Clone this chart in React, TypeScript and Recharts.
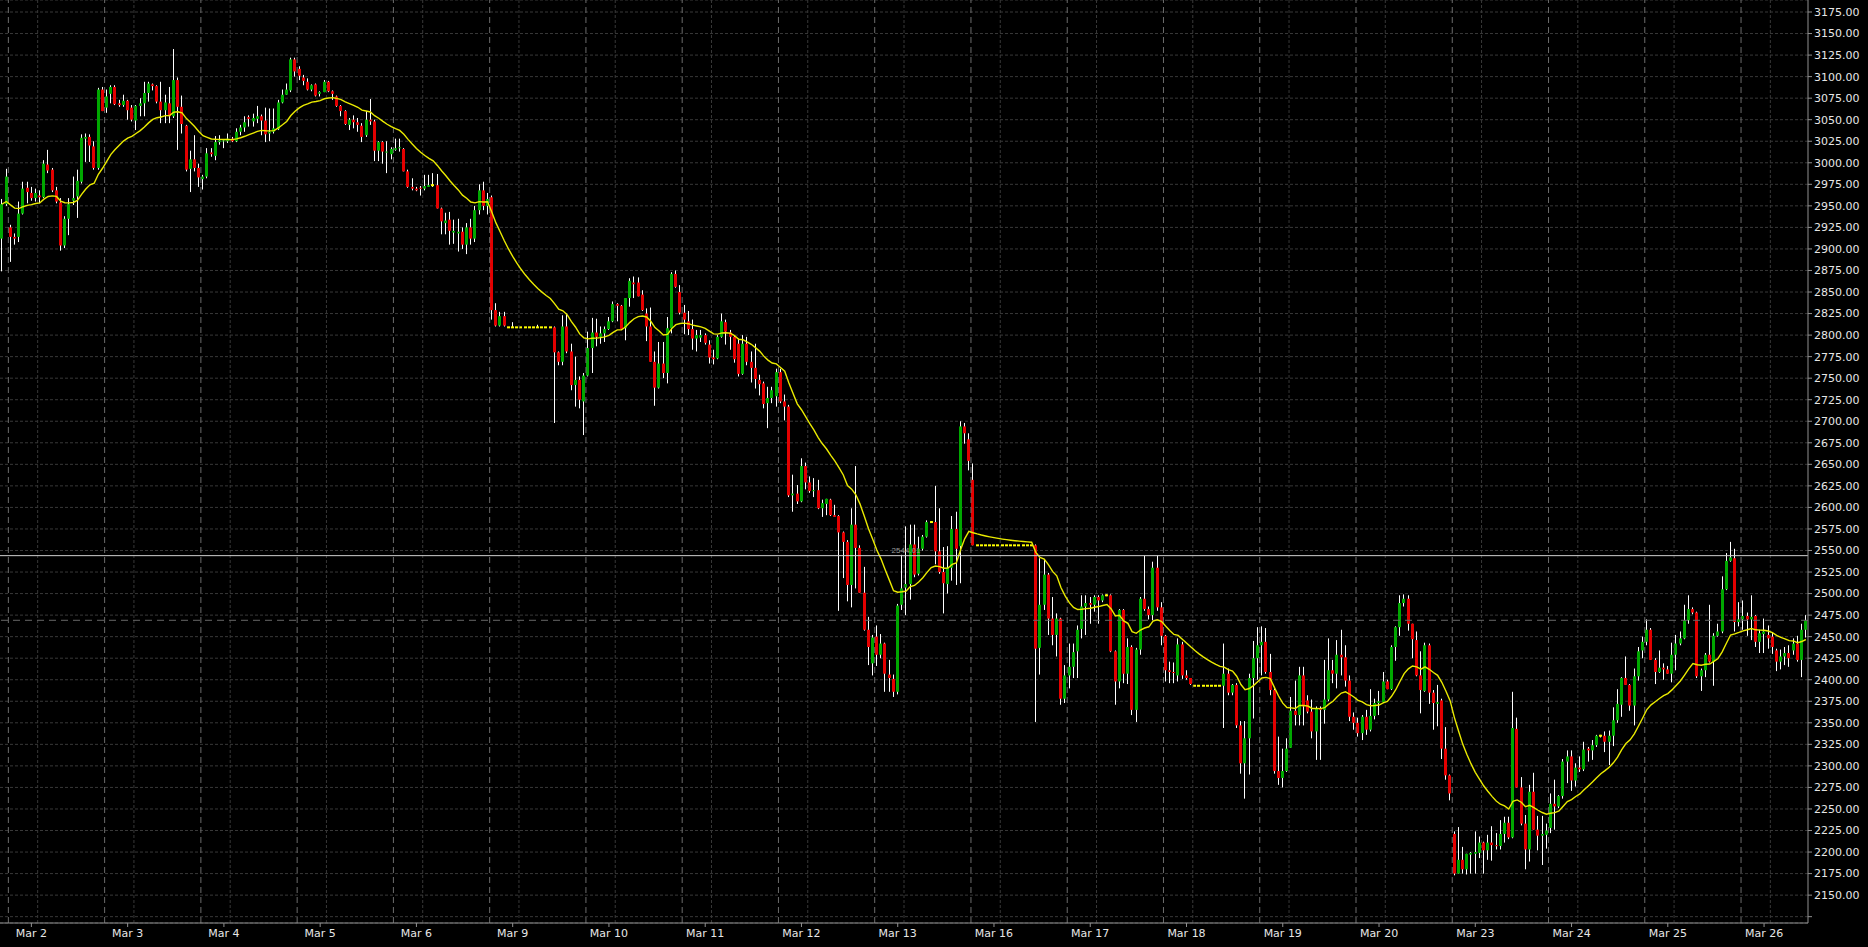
import {
  ComposedChart, Bar, Line, XAxis, YAxis, CartesianGrid,
  ReferenceLine, ReferenceDot,
} from 'recharts'

// hourly bars: [open, high, low, close]
type Candle = [number, number, number, number]

const feb28: Candle[] = [
  [2912, 2958, 2874, 2952], [2952, 2993, 2950, 2984],
]
const mar02: Candle[] = [
  [2925, 2928, 2885, 2914], [2914, 2918, 2905, 2912], [2914, 2955, 2908, 2941], [2941, 2978, 2940, 2970],
  [2971, 2978, 2953, 2966], [2965, 2972, 2956, 2959], [2959, 2970, 2955, 2965], [2962, 2968, 2953, 2960],
  [2960, 3003, 2959, 2999], [2998, 3015, 2988, 2991], [2992, 2994, 2966, 2968], [2968, 2972, 2953, 2955],
  [2954, 2959, 2898, 2904], [2904, 2938, 2901, 2935], [2935, 2959, 2916, 2952], [2956, 2984, 2951, 2959],
  [2961, 2992, 2936, 2979], [2978, 3033, 2976, 3029], [3028, 3034, 3001, 3030], [3030, 3033, 3001, 3020],
  [3019, 3025, 2992, 2994], [2994, 3087, 2992, 3085], [3085, 3088, 3060, 3060],
]
const mar03: Candle[] = [
  [3064, 3085, 3058, 3077], [3080, 3090, 3069, 3088], [3088, 3090, 3067, 3068], [3069, 3073, 3065, 3067],
  [3067, 3079, 3065, 3072], [3072, 3073, 3050, 3061], [3064, 3067, 3048, 3050], [3049, 3067, 3038, 3066],
  [3066, 3075, 3054, 3069], [3069, 3094, 3054, 3081], [3081, 3094, 3071, 3092], [3091, 3092, 3084, 3089],
  [3089, 3090, 3069, 3071], [3071, 3094, 3046, 3061], [3061, 3079, 3046, 3070], [3069, 3088, 3046, 3054],
  [3054, 3132, 3052, 3096], [3096, 3099, 3015, 3065], [3065, 3078, 3034, 3045], [3043, 3044, 2990, 2992],
  [2993, 3014, 2966, 3004], [3004, 3032, 2990, 2994], [2994, 2999, 2972, 2983],
]
const mar04: Candle[] = [
  [2981, 2986, 2969, 2984], [2984, 3017, 2982, 3011], [3012, 3017, 3007, 3010], [3008, 3031, 3003, 3024],
  [3024, 3032, 3021, 3026], [3025, 3027, 3017, 3026], [3025, 3034, 3023, 3028], [3028, 3030, 3024, 3025],
  [3025, 3040, 3024, 3036], [3036, 3044, 3032, 3041], [3041, 3054, 3036, 3047], [3053, 3055, 3042, 3051],
  [3048, 3057, 3042, 3052], [3051, 3066, 3046, 3054], [3054, 3056, 3032, 3049], [3049, 3064, 3024, 3033],
  [3034, 3063, 3025, 3036], [3036, 3063, 3034, 3040], [3039, 3073, 3038, 3070], [3070, 3085, 3069, 3079],
  [3079, 3092, 3079, 3085], [3084, 3122, 3082, 3120], [3120, 3122, 3100, 3106],
]
const mar05: Candle[] = [
  [3109, 3112, 3096, 3101], [3099, 3102, 3090, 3095], [3094, 3098, 3084, 3085], [3085, 3091, 3083, 3090],
  [3091, 3092, 3077, 3078], [3080, 3083, 3077, 3082], [3082, 3096, 3082, 3094], [3094, 3095, 3082, 3083],
  [3083, 3084, 3073, 3080], [3077, 3078, 3065, 3066], [3066, 3067, 3054, 3060], [3060, 3061, 3044, 3045],
  [3044, 3052, 3038, 3050], [3050, 3055, 3040, 3047], [3047, 3052, 3036, 3044], [3043, 3046, 3024, 3030],
  [3032, 3060, 3030, 3050], [3050, 3074, 3044, 3048], [3048, 3050, 3002, 3014], [3014, 3025, 3002, 3024],
  [3024, 3025, 2999, 3013], [3012, 3025, 2988, 3013], [3010, 3018, 3004, 3016],
]
const mar06: Candle[] = [
  [3015, 3028, 3014, 3017], [3017, 3028, 3013, 3018], [3016, 3017, 2990, 2990], [2990, 2992, 2971, 2972],
  [2972, 2982, 2968, 2970], [2970, 2972, 2967, 2968], [2971, 2973, 2962, 2970], [2970, 2986, 2968, 2973],
  [2972, 2986, 2972, 2974], [2974, 2988, 2972, 2974], [2974, 2987, 2947, 2947], [2947, 2948, 2917, 2932],
  [2930, 2942, 2917, 2933], [2934, 2943, 2905, 2921], [2919, 2934, 2906, 2921], [2918, 2935, 2897, 2920],
  [2920, 2925, 2900, 2905], [2905, 2930, 2894, 2925], [2925, 2935, 2905, 2912], [2912, 2950, 2908, 2945],
  [2945, 2975, 2940, 2968], [2968, 2978, 2945, 2950], [2950, 2965, 2940, 2958],
]
const mar09: Candle[] = [
  [2960, 2962, 2818, 2829], [2829, 2837, 2810, 2811], [2811, 2827, 2810, 2822], [2822, 2827, 2810, 2811],
  [2809, 2809, 2809, 2809], [2809, 2815, 2809, 2809], [2809, 2809, 2809, 2809], [2809, 2809, 2809, 2809],
  [2809, 2809, 2809, 2809], [2809, 2809, 2809, 2809], [2809, 2809, 2809, 2809], [2809, 2812, 2809, 2809],
  [2809, 2809, 2809, 2809], [2809, 2809, 2809, 2809], [2809, 2809, 2809, 2809],
  [2809, 2810, 2698, 2780], [2780, 2781, 2765, 2769], [2769, 2823, 2765, 2810], [2810, 2825, 2779, 2781],
  [2781, 2790, 2736, 2742], [2742, 2775, 2717, 2748], [2748, 2752, 2715, 2725], [2723, 2756, 2684, 2753],
]
const mar10: Candle[] = [
  [2753, 2804, 2752, 2785], [2785, 2820, 2756, 2803], [2803, 2819, 2787, 2798], [2798, 2810, 2790, 2802],
  [2802, 2810, 2792, 2807], [2807, 2821, 2806, 2816], [2816, 2839, 2815, 2836], [2836, 2837, 2816, 2834],
  [2834, 2835, 2806, 2807], [2808, 2843, 2794, 2843], [2843, 2866, 2833, 2863], [2861, 2868, 2843, 2859],
  [2861, 2867, 2845, 2845], [2847, 2852, 2828, 2829], [2825, 2831, 2793, 2810], [2810, 2832, 2769, 2769],
  [2769, 2781, 2718, 2739], [2739, 2792, 2738, 2767], [2767, 2792, 2750, 2756], [2756, 2821, 2744, 2808],
  [2808, 2873, 2802, 2871], [2871, 2875, 2855, 2856], [2850, 2858, 2824, 2826],
]
const mar11: Candle[] = [
  [2826, 2835, 2801, 2818], [2816, 2828, 2800, 2807], [2807, 2818, 2783, 2796], [2796, 2806, 2781, 2800],
  [2797, 2806, 2792, 2800], [2800, 2802, 2789, 2791], [2789, 2794, 2767, 2774], [2774, 2783, 2766, 2772],
  [2773, 2800, 2772, 2798], [2798, 2825, 2797, 2816], [2815, 2818, 2789, 2804], [2803, 2806, 2783, 2798],
  [2798, 2800, 2768, 2772], [2790, 2796, 2752, 2755], [2755, 2800, 2754, 2790], [2790, 2798, 2765, 2769],
  [2769, 2781, 2745, 2762], [2762, 2790, 2738, 2749], [2748, 2754, 2730, 2743], [2744, 2746, 2715, 2720],
  [2721, 2740, 2692, 2727], [2727, 2740, 2721, 2736], [2729, 2761, 2717, 2757],
]
const mar12: Candle[] = [
  [2757, 2761, 2721, 2723], [2723, 2731, 2701, 2717], [2717, 2719, 2612, 2614], [2614, 2638, 2595, 2616],
  [2616, 2626, 2604, 2607], [2607, 2657, 2606, 2648], [2648, 2652, 2621, 2629], [2629, 2636, 2617, 2619],
  [2619, 2634, 2612, 2620], [2620, 2632, 2598, 2599], [2599, 2609, 2589, 2605], [2604, 2610, 2591, 2610],
  [2609, 2610, 2590, 2591], [2591, 2603, 2589, 2589], [2590, 2591, 2480, 2571], [2571, 2572, 2518, 2560],
  [2560, 2562, 2491, 2510], [2510, 2599, 2484, 2580], [2580, 2648, 2506, 2553], [2553, 2556, 2501, 2501],
  [2501, 2531, 2457, 2458], [2458, 2473, 2417, 2438], [2419, 2452, 2405, 2449],
]
const mar13: Candle[] = [
  [2450, 2463, 2416, 2429], [2429, 2453, 2425, 2442], [2442, 2443, 2386, 2407], [2406, 2423, 2386, 2402],
  [2401, 2406, 2380, 2386], [2386, 2488, 2383, 2486], [2487, 2545, 2481, 2506], [2507, 2578, 2475, 2511],
  [2511, 2580, 2493, 2557], [2557, 2580, 2519, 2522], [2523, 2566, 2521, 2552], [2552, 2568, 2550, 2566],
  [2566, 2585, 2565, 2583], [2583, 2584, 2582, 2583], [2583, 2625, 2534, 2549], [2549, 2599, 2523, 2525],
  [2525, 2554, 2477, 2512], [2511, 2555, 2500, 2530], [2530, 2590, 2515, 2575], [2575, 2595, 2510, 2552],
  [2555, 2700, 2512, 2694], [2694, 2698, 2674, 2686], [2679, 2686, 2643, 2654],
]
const mar16: Candle[] = [
  [2632, 2651, 2556, 2556],
  [2556, 2556, 2556, 2556], [2556, 2556, 2556, 2556], [2556, 2556, 2556, 2556], [2556, 2556, 2556, 2556],
  [2556, 2556, 2556, 2556], [2556, 2556, 2556, 2556], [2556, 2556, 2556, 2556], [2556, 2556, 2556, 2556],
  [2556, 2556, 2556, 2556], [2556, 2556, 2556, 2556], [2556, 2556, 2556, 2556], [2556, 2556, 2556, 2556],
  [2556, 2556, 2556, 2556], [2556, 2556, 2556, 2556],
  [2556, 2557, 2351, 2436], [2437, 2541, 2406, 2487], [2487, 2539, 2481, 2522], [2522, 2524, 2452, 2471],
  [2471, 2496, 2440, 2452], [2452, 2477, 2427, 2471], [2471, 2472, 2371, 2378], [2378, 2417, 2373, 2405],
]
const mar17: Candle[] = [
  [2405, 2442, 2390, 2415], [2415, 2442, 2402, 2432], [2433, 2463, 2402, 2458], [2459, 2498, 2448, 2485],
  [2485, 2498, 2452, 2489], [2489, 2496, 2465, 2487], [2487, 2498, 2479, 2496], [2496, 2498, 2465, 2492],
  [2492, 2499, 2490, 2498], [2498, 2499, 2497, 2498], [2498, 2499, 2432, 2433], [2433, 2434, 2371, 2398],
  [2398, 2482, 2390, 2481], [2481, 2482, 2396, 2407], [2407, 2448, 2395, 2438], [2438, 2440, 2359, 2365],
  [2365, 2437, 2351, 2435], [2435, 2496, 2429, 2494], [2494, 2544, 2480, 2482], [2482, 2485, 2470, 2475],
  [2475, 2537, 2469, 2530], [2530, 2544, 2480, 2484], [2484, 2490, 2440, 2451],
]
const mar18: Candle[] = [
  [2451, 2452, 2398, 2411], [2411, 2421, 2396, 2409], [2409, 2420, 2396, 2408], [2405, 2448, 2398, 2441],
  [2441, 2444, 2401, 2405], [2405, 2411, 2400, 2402], [2402, 2402, 2394, 2395],
  [2393, 2393, 2393, 2393], [2393, 2393, 2393, 2393], [2393, 2393, 2393, 2393], [2393, 2393, 2393, 2393],
  [2393, 2393, 2393, 2393], [2393, 2393, 2393, 2393], [2393, 2393, 2393, 2393],
  [2393, 2442, 2344, 2407], [2407, 2413, 2382, 2385], [2385, 2395, 2382, 2394], [2394, 2396, 2344, 2347],
  [2347, 2352, 2291, 2303], [2303, 2352, 2262, 2332], [2332, 2407, 2290, 2402], [2402, 2445, 2355, 2425],
  [2425, 2461, 2400, 2440],
]
const mar19: Candle[] = [
  [2440, 2462, 2405, 2444], [2444, 2460, 2407, 2409], [2409, 2430, 2382, 2388], [2388, 2390, 2291, 2294],
  [2294, 2334, 2278, 2286], [2286, 2320, 2275, 2294], [2294, 2332, 2293, 2320], [2321, 2380, 2321, 2364],
  [2364, 2399, 2347, 2359], [2359, 2415, 2347, 2405], [2405, 2415, 2347, 2369], [2376, 2382, 2361, 2363],
  [2363, 2377, 2332, 2340], [2340, 2369, 2307, 2367], [2367, 2369, 2307, 2365], [2365, 2423, 2349, 2377],
  [2377, 2448, 2375, 2411], [2411, 2423, 2396, 2407], [2407, 2446, 2390, 2429], [2429, 2458, 2405, 2426],
  [2426, 2440, 2392, 2399], [2399, 2405, 2352, 2357], [2357, 2362, 2342, 2350],
]
const mar20: Candle[] = [
  [2350, 2356, 2334, 2338], [2338, 2359, 2330, 2357], [2357, 2365, 2336, 2342], [2342, 2389, 2340, 2358],
  [2358, 2378, 2354, 2373], [2373, 2387, 2359, 2375], [2374, 2409, 2373, 2398], [2398, 2400, 2389, 2389],
  [2389, 2440, 2388, 2438], [2438, 2462, 2422, 2461], [2461, 2498, 2451, 2489], [2489, 2499, 2485, 2494],
  [2494, 2498, 2457, 2465], [2465, 2465, 2425, 2447], [2446, 2456, 2404, 2405], [2405, 2433, 2361, 2388],
  [2387, 2443, 2386, 2440], [2440, 2442, 2372, 2385], [2385, 2388, 2342, 2373], [2372, 2394, 2346, 2374],
  [2376, 2378, 2308, 2320], [2320, 2345, 2284, 2289], [2289, 2290, 2260, 2268],
]
const mar23: Candle[] = [
  [2221, 2224, 2173, 2175], [2175, 2229, 2175, 2191], [2191, 2206, 2175, 2180], [2180, 2198, 2174, 2198],
  [2197, 2200, 2175, 2199], [2198, 2224, 2175, 2200], [2199, 2218, 2193, 2211], [2211, 2212, 2175, 2202],
  [2202, 2220, 2191, 2211], [2211, 2230, 2190, 2208], [2208, 2222, 2203, 2207], [2207, 2237, 2203, 2221],
  [2221, 2241, 2211, 2234], [2234, 2241, 2215, 2217], [2217, 2386, 2216, 2344], [2343, 2356, 2275, 2275],
  [2275, 2287, 2231, 2233], [2233, 2243, 2180, 2203], [2203, 2278, 2189, 2270], [2270, 2292, 2226, 2226],
  [2226, 2242, 2202, 2219], [2219, 2242, 2185, 2221], [2220, 2233, 2204, 2225],
]
const mar24: Candle[] = [
  [2228, 2268, 2222, 2256], [2256, 2284, 2226, 2253], [2253, 2266, 2251, 2265], [2265, 2308, 2262, 2305],
  [2305, 2318, 2280, 2311], [2311, 2318, 2271, 2283], [2283, 2303, 2276, 2298], [2298, 2311, 2293, 2296],
  [2296, 2328, 2294, 2319], [2320, 2322, 2305, 2318], [2318, 2330, 2307, 2324], [2324, 2336, 2322, 2335],
  [2335, 2336, 2333, 2335], [2335, 2340, 2316, 2328], [2328, 2341, 2301, 2335], [2335, 2368, 2323, 2353],
  [2353, 2389, 2350, 2372], [2371, 2403, 2357, 2402], [2402, 2427, 2394, 2394], [2394, 2395, 2364, 2370],
  [2370, 2413, 2347, 2404], [2404, 2438, 2399, 2433], [2434, 2450, 2425, 2444],
]
const mar25: Candle[] = [
  [2444, 2470, 2440, 2458], [2458, 2460, 2423, 2423], [2423, 2425, 2395, 2409], [2409, 2434, 2408, 2414],
  [2414, 2419, 2400, 2412], [2412, 2416, 2407, 2407], [2407, 2443, 2397, 2429], [2429, 2452, 2411, 2442],
  [2442, 2456, 2440, 2448], [2448, 2487, 2447, 2469], [2469, 2498, 2465, 2482], [2482, 2484, 2476, 2478],
  [2478, 2479, 2402, 2404], [2404, 2413, 2387, 2411], [2411, 2431, 2403, 2429], [2429, 2487, 2420, 2421],
  [2421, 2454, 2393, 2451], [2451, 2465, 2450, 2456], [2456, 2520, 2454, 2505], [2505, 2547, 2504, 2538],
  [2538, 2560, 2537, 2542], [2541, 2552, 2456, 2467], [2467, 2490, 2462, 2470],
]
const mar26: Candle[] = [
  [2470, 2492, 2458, 2474], [2474, 2478, 2451, 2470], [2470, 2498, 2446, 2473], [2474, 2475, 2438, 2444],
  [2444, 2458, 2431, 2454], [2453, 2471, 2431, 2456], [2452, 2463, 2436, 2448], [2450, 2455, 2430, 2438],
  [2434, 2436, 2410, 2421], [2421, 2435, 2412, 2427], [2427, 2438, 2417, 2431], [2431, 2440, 2415, 2425],
  [2434, 2448, 2429, 2442], [2442, 2451, 2421, 2423], [2423, 2465, 2403, 2458], [2458, 2475, 2449, 2469],
]

const sessions: { label: string | null; bars: Candle[] }[] = [
  { label: null, bars: feb28 },
  { label: 'Mar 2', bars: mar02 },
  { label: 'Mar 3', bars: mar03 },
  { label: 'Mar 4', bars: mar04 },
  { label: 'Mar 5', bars: mar05 },
  { label: 'Mar 6', bars: mar06 },
  { label: 'Mar 9', bars: mar09 },
  { label: 'Mar 10', bars: mar10 },
  { label: 'Mar 11', bars: mar11 },
  { label: 'Mar 12', bars: mar12 },
  { label: 'Mar 13', bars: mar13 },
  { label: 'Mar 16', bars: mar16 },
  { label: 'Mar 17', bars: mar17 },
  { label: 'Mar 18', bars: mar18 },
  { label: 'Mar 19', bars: mar19 },
  { label: 'Mar 20', bars: mar20 },
  { label: 'Mar 23', bars: mar23 },
  { label: 'Mar 24', bars: mar24 },
  { label: 'Mar 25', bars: mar25 },
  { label: 'Mar 26', bars: mar26 },
]

// horizontal line object and its caption
const HLINE_PRICE = 2544.01
const HLINE_BAR = 213

const MA_PERIOD = 20
const PRICE_TOP = 3188.93
const PRICE_BOTTOM = 2117.65
const priceTicks = Array.from({ length: 43 }, (_, i) => 2125 + i * 25)

const UP = '#00a800'
const DOWN = '#e40000'
const DOJI = '#ffff00'
const WICK = '#ffffff'
const MA_COLOR = '#eaea00'
const AXIS = '#909090'
const GRID = '#383838'
const SEPARATOR = '#6c6c6c'
const FONT = 'DejaVu Sans, Verdana, sans-serif'

type Row = {
  idx: number
  open: number
  high: number
  low: number
  close: number
  range: [number, number]
  ma: number
}

const rows: Row[] = []
const days: { label: string; start: number }[] = []
for (const s of sessions) {
  if (s.label) days.push({ label: s.label, start: rows.length })
  for (const [open, high, low, close] of s.bars) {
    rows.push({
      idx: rows.length,
      open, high, low, close,
      // flat bars still need a tiny span so the bar gets a position
      range: high > low ? [low, high] : [low - 0.05, high + 0.05],
      ma: close,
    })
  }
}
// exponential moving average of the closes
const alpha = 2 / (MA_PERIOD + 1)
for (let i = 1; i < rows.length; i++) {
  rows[i].ma = rows[i - 1].ma + alpha * (rows[i].close - rows[i - 1].ma)
}

const lastClose = rows[rows.length - 1].close
const labelTicks = days.map((d) => d.start + 5)
const labelAt = new Map(days.map((d) => [d.start + 5, d.label]))

function CandleShape(props: any) {
  const { x, y, width, height, payload } = props
  if (!payload || !Number.isFinite(x) || !Number.isFinite(y)) return <g />
  const [lo, hi] = payload.range as [number, number]
  const top = Math.min(y, y + height)
  const bottom = Math.max(y, y + height)
  const toY = (v: number) => top + ((hi - v) / (hi - lo)) * (bottom - top)
  const cx = Math.floor(x + width / 2)
  const { open, high, low, close } = payload as Row
  const parts = []
  if (high > low) {
    parts.push(
      <rect key="w" x={cx} y={toY(high)} width={1}
        height={Math.max(1, toY(low) - toY(high))} fill={WICK} />,
    )
  }
  if (open === close) {
    parts.push(<rect key="d" x={cx - 1} y={toY(open) - 1} width={3} height={2} fill={DOJI} />)
  } else {
    const bt = toY(Math.max(open, close))
    const bb = toY(Math.min(open, close))
    parts.push(
      <rect key="b" x={cx - 1} y={bt} width={3} height={Math.max(1, bb - bt)}
        fill={close > open ? UP : DOWN} />,
    )
  }
  return <g>{parts}</g>
}

function HLineCaption(props: any) {
  const { cx, cy } = props
  if (!Number.isFinite(cx)) return <g />
  return (
    <text x={cx - 2} y={cy - 3} fill="#9a9a9a" fontSize={8}
      fontFamily="Liberation Sans, Arial, sans-serif">
      {HLINE_PRICE.toFixed(2)}
    </text>
  )
}

export default function App() {
  return (
    <div style={{ position: 'fixed', left: 0, top: 0, width: 1868, height: 947, background: '#000', overflow: 'hidden' }}>
      <ComposedChart width={1868} height={947} data={rows}
        margin={{ top: 0, right: 0, bottom: 0, left: 0 }}>
        <CartesianGrid vertical={false} stroke={GRID} strokeDasharray="3 2" />
        <XAxis
          dataKey="idx"
          type="category"
          ticks={labelTicks}
          interval={0}
          tickFormatter={(v) => labelAt.get(v) ?? ''}
          height={24}
          tickSize={4}
          tickMargin={2}
          axisLine={{ stroke: AXIS }}
          tickLine={{ stroke: AXIS }}
          tick={{ fill: '#e6e6e6', fontSize: 11, fontFamily: FONT }}
        />
        <YAxis
          orientation="right"
          type="number"
          domain={[PRICE_BOTTOM, PRICE_TOP]}
          allowDataOverflow
          ticks={priceTicks}
          interval={0}
          width={60}
          tickSize={4}
          tickMargin={2}
          tickFormatter={(v) => (v < 2150 ? '' : Number(v).toFixed(2))}
          axisLine={{ stroke: AXIS }}
          tickLine={{ stroke: AXIS }}
          tick={{ fill: '#e6e6e6', fontSize: 11, fontFamily: FONT }}
        />
        {days.map((d) => (
          <ReferenceLine key={`g${d.start}`} x={d.start + 7} position="start"
            stroke={GRID} strokeDasharray="3 2" />
        ))}
        {days.map((d) => (
          <ReferenceLine key={`s${d.start}`} x={d.start} position="start"
            stroke={SEPARATOR} strokeDasharray="6 4" />
        ))}
        <ReferenceLine y={lastClose} stroke="#686868" strokeDasharray="7 5" />
        <Bar dataKey="range" shape={<CandleShape />} isAnimationActive={false} />
        <Line type="linear" dataKey="ma" stroke={MA_COLOR} strokeWidth={1.4}
          dot={false} activeDot={false} isAnimationActive={false} />
        <ReferenceLine y={HLINE_PRICE} stroke="#d0d0d0" />
        <ReferenceDot x={HLINE_BAR} y={HLINE_PRICE} r={0} shape={<HLineCaption />} />
      </ComposedChart>
    </div>
  )
}
